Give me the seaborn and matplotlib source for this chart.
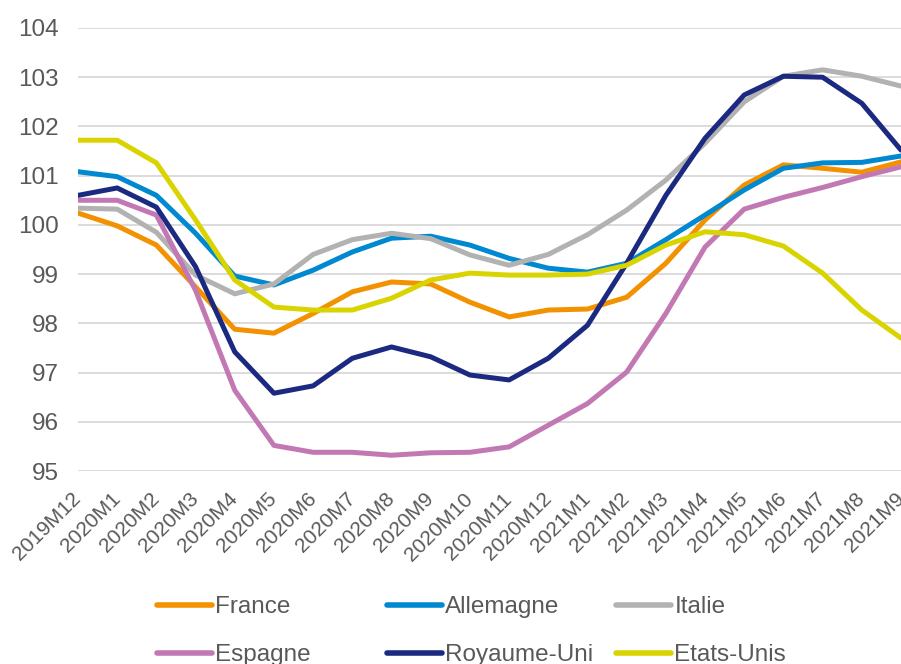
import pandas as pd
import numpy as np
import matplotlib.pyplot as plt
import seaborn as sns

months = ['2019M12', '2020M1', '2020M2', '2020M3', '2020M4', '2020M5', '2020M6',
          '2020M7', '2020M8', '2020M9', '2020M10', '2020M11', '2020M12',
          '2021M1', '2021M2', '2021M3', '2021M4', '2021M5', '2021M6', '2021M7',
          '2021M8', '2021M9']

france = [100.24, 99.98, 99.59, 98.74, 97.88, 97.80, 98.20, 98.64, 98.84, 98.80, 98.43,
          98.13, 98.27, 98.29, 98.53, 99.22, 100.10, 100.81, 101.22, 101.15, 101.07, 101.28]
allemagne = [101.08, 100.98, 100.60, 99.83, 98.96, 98.78, 99.08, 99.45, 99.73, 99.77, 99.59,
             99.32, 99.12, 99.04, 99.22, 99.70, 100.20, 100.71, 101.15, 101.26, 101.27, 101.40]
italie = [100.34, 100.32, 99.85, 98.98, 98.60, 98.80, 99.40, 99.70, 99.83, 99.72, 99.39,
          99.18, 99.40, 99.80, 100.30, 100.91, 101.66, 102.50, 103.02, 103.15, 103.02, 102.82]
espagne = [100.50, 100.50, 100.20, 98.67, 96.64, 95.52, 95.38, 95.38, 95.32, 95.37, 95.38,
           95.49, 95.93, 96.37, 97.01, 98.20, 99.55, 100.32, 100.56, 100.76, 100.98, 101.18]
royaume_uni = [100.60, 100.75, 100.36, 99.15, 97.42, 96.58, 96.73, 97.29, 97.52, 97.32, 96.95,
               96.85, 97.29, 97.96, 99.22, 100.60, 101.76, 102.64, 103.02, 103.00, 102.47, 101.52]
etats_unis = [101.72, 101.72, 101.26, 100.10, 98.88, 98.33, 98.27, 98.27, 98.51, 98.88, 99.02,
              98.98, 98.98, 99.00, 99.18, 99.59, 99.86, 99.80, 99.57, 99.02, 98.27, 97.70]

pays = ['France', 'Allemagne', 'Italie', 'Espagne', 'Royaume-Uni', 'Etats-Unis']
series = [france, allemagne, italie, espagne, royaume_uni, etats_unis]
couleurs = ['#F39200', '#0089D0', '#B2B2B2', '#C278B2', '#1B2A80', '#D9D400']

df = pd.concat([pd.DataFrame({'mois': np.arange(len(months)), 'valeur': s, 'pays': p})
                for p, s in zip(pays, series)], ignore_index=True)

sns.set_style('white')
plt.rcParams['font.family'] = ['Liberation Sans', 'DejaVu Sans']
gris = '#595959'

fig = plt.figure(figsize=(9.01, 6.64), dpi=100)
ax = fig.add_axes([78 / 901, 1 - 471 / 664, 1 - 78 / 901, (471 - 28) / 664])

sns.lineplot(data=df, x='mois', y='valeur', hue='pays', hue_order=pays,
             palette=couleurs, linewidth=3.6, ax=ax)
for line in ax.lines:
    line.set_solid_joinstyle('round')

ax.set_xlim(0, len(months) - 1)
ax.set_ylim(95, 104)
ax.set_yticks(range(95, 105))
ax.set_xticks(range(len(months)))
ax.set_xticklabels(months, rotation=45, ha='right', va='center', rotation_mode='anchor')
ax.tick_params(axis='y', labelsize=17.5, colors=gris, length=0, pad=14)
ax.tick_params(axis='x', labelsize=15, colors=gris, length=0, pad=18)
ax.yaxis.grid(True, color='#D9D9D9', linewidth=1.3)
ax.set_axisbelow(True)
for sp in ax.spines.values():
    sp.set_visible(False)
ax.set_xlabel('')
ax.set_ylabel('')

handles, labels = ax.get_legend_handles_labels()
ax.get_legend().remove()

# three columns of two entries, fixed positions like the original
col_x = [157, 387, 616]
for c in range(3):
    hs = [handles[c], handles[c + 3]]
    ls = [labels[c], labels[c + 3]]
    leg = fig.legend(hs, ls, loc='upper left', bbox_to_anchor=(col_x[c] / 901, 1 - 596 / 664),
                     frameon=False, fontsize=17.5, handlelength=2.25, handletextpad=0.15,
                     labelspacing=1.08, borderpad=0, borderaxespad=0)
    for t in leg.get_texts():
        t.set_color(gris)
    for h in leg.legend_handles:
        h.set_linewidth(4)
        h.set_solid_capstyle('round')

fig.savefig('out.png', dpi=100)
